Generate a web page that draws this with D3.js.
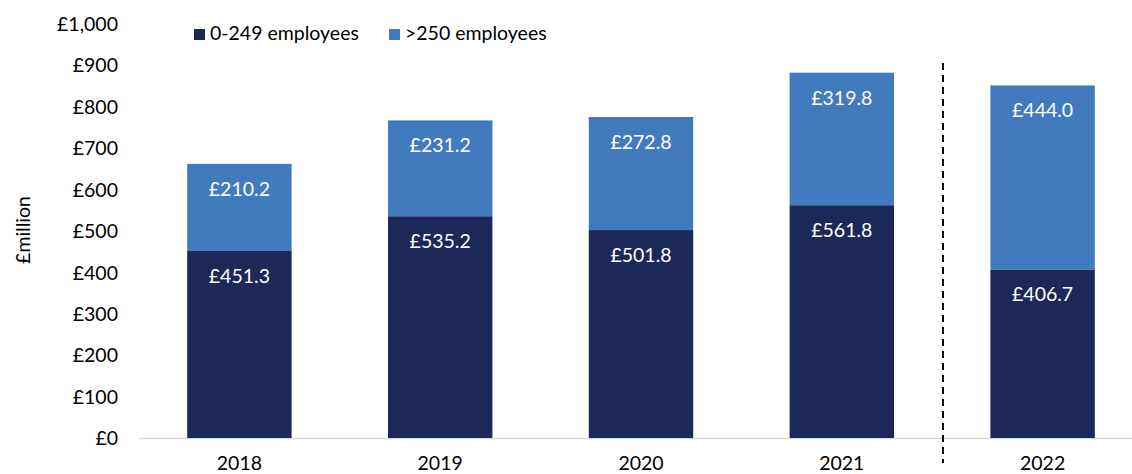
<!DOCTYPE html>
<html><head><meta charset="utf-8">
<script src="https://cdn.jsdelivr.net/npm/d3@7"></script>
<style>body{margin:0;background:#fff;} text{font-family:Lato,"Open Sans",sans-serif;}</style>
</head><body>
<svg id="c" width="1132" height="474"></svg>
<script>
const years = ["2018","2019","2020","2021","2022"];
const small = [451.3, 535.2, 501.8, 561.8, 406.7];
const large = [210.2, 231.2, 272.8, 319.8, 444.0];
const yTicks = [0,100,200,300,400,500,600,700,800,900,1000];
const seriesNames = ["0-249 employees", ">250 employees"];
const colors = ["#1c2857", "#427bbd"];
const FS = 19.5;

const svg = d3.select("#c");
const x = d3.scaleBand().domain(years).range([139, 1143]).padding(0);
const y = d3.scaleLinear().domain([0, 1000]).range([438, 23.6]);
const bw = x.bandwidth() * 0.52;
const fmt = v => "£" + d3.format(",.1f")(v);

// y axis labels
const yAxis = d3.axisLeft(y).tickValues(yTicks).tickSize(0).tickPadding(0)
  .tickFormat(d => "£" + d3.format(",")(d));
const ga = svg.append("g").attr("transform", "translate(118,0)").call(yAxis);
ga.select(".domain").remove();
ga.selectAll("text").attr("font-size", FS).attr("fill", "#000").attr("font-family", "Lato,'Open Sans',sans-serif").attr("dy", "0.35em");

// axis baseline
svg.append("line").attr("x1", 139).attr("x2", 1132).attr("y1", y(0)+0.5).attr("y2", y(0)+0.5)
  .attr("stroke", "#d9d9d9").attr("stroke-width", 1.5);

// stacked bars
years.forEach((yr, i) => {
  const cx = x(yr) + x.bandwidth()/2;
  const segs = [[0, small[i]], [small[i], small[i] + large[i]]];
  const vals = [small[i], large[i]];
  segs.forEach((s, j) => {
    svg.append("rect").attr("x", cx - bw/2).attr("width", bw)
      .attr("y", y(s[1])).attr("height", y(s[0]) - y(s[1]))
      .attr("fill", colors[j]);
    svg.append("text").attr("x", cx).attr("y", y(s[1]) + 27)
      .attr("text-anchor", "middle").attr("dominant-baseline", "middle")
      .attr("font-size", FS).attr("fill", "#fff").text(fmt(vals[j]));
  });
  svg.append("text").attr("x", cx).attr("y", 465).attr("text-anchor", "middle")
    .attr("dominant-baseline", "middle").attr("font-size", FS).attr("fill", "#000").text(yr);
});

// dashed separator between 2021 and 2022
svg.append("line").attr("x1", 943).attr("x2", 943).attr("y1", 63).attr("y2", 463)
  .attr("stroke", "#000").attr("stroke-width", 2).attr("stroke-dasharray", "7,5");

// y title
svg.append("text").attr("transform", "translate(25,230) rotate(-90)")
  .attr("text-anchor", "middle").attr("dominant-baseline", "middle")
  .attr("font-size", FS).attr("fill", "#000").text("£million");

// legend
const legX = [194, 389];
seriesNames.forEach((n, j) => {
  svg.append("rect").attr("x", legX[j]).attr("y", 29).attr("width", 11).attr("height", 11).attr("fill", colors[j]);
  svg.append("text").attr("x", legX[j] + 16).attr("y", 35).attr("dominant-baseline", "middle")
    .attr("font-size", FS).attr("fill", "#000").text(n);
});
</script>
</body></html>
